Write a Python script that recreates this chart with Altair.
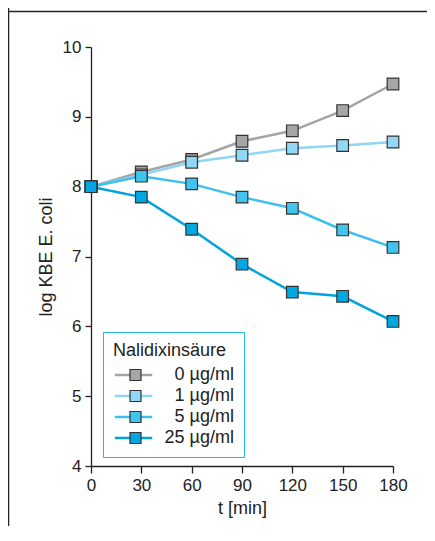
import altair as alt
import pandas as pd

t_min = [0, 30, 60, 90, 120, 150, 180]
series = ["0 µg/ml", "1 µg/ml", "5 µg/ml", "25 µg/ml"]
v_0 = [8.0, 8.21, 8.39, 8.65, 8.80, 9.09, 9.47]
v_1 = [8.0, 8.17, 8.35, 8.45, 8.55, 8.59, 8.64]
v_5 = [8.0, 8.15, 8.04, 7.85, 7.69, 7.38, 7.13]
v_25 = [8.0, 7.85, 7.39, 6.89, 6.49, 6.43, 6.07]
line_colors = ["#a4a4a7", "#8fd6f4", "#3ec0ee", "#00a3df"]
fill_colors = ["#a6a6a9", "#90d8f6", "#40c4f0", "#00a8e1"]

rows = []
for name, vals in zip(series, [v_0, v_1, v_5, v_25]):
    for t, v in zip(t_min, vals):
        rows.append({"t": t, "v": v, "Serie": name, "Serie2": name})
df = pd.DataFrame(rows)

FONT = "Liberation Sans"
TXT = "#222222"
NBSP = "\u00a0"

x = alt.X("t:Q", scale=alt.Scale(domain=[0, 180], nice=False),
          axis=alt.Axis(values=t_min, title="t [min]", grid=False, labelFlush=False,
                        labelFontSize=17, titleFontSize=18, titlePadding=6,
                        labelPadding=4, tickSize=7))
y = alt.Y("v:Q", scale=alt.Scale(domain=[4, 10], nice=False, zero=False),
          axis=alt.Axis(values=[4, 5, 6, 7, 8, 9, 10], title="log KBE E. coli",
                        grid=False, labelFlush=False, labelFontSize=17, titleFontSize=18,
                        titlePadding=7, labelPadding=4, tickSize=6))

common_legend = dict(
    orient="none", legendY=285, symbolSize=121, labelFontSize=18, titleFontSize=18,
    labelFont=FONT, titleFont=FONT, titleFontWeight="normal", padding=10,
    rowPadding=3, titlePadding=6,
)

lines = alt.Chart(df).mark_line(strokeWidth=2.5).encode(
    x=x, y=y,
    stroke=alt.Stroke("Serie:N", scale=alt.Scale(domain=series, range=line_colors),
                      sort=series,
                      legend=alt.Legend(
                          title="Nalidixinsäure", legendX=12,
                          symbolType="M-1.3,0H5.5", symbolStrokeWidth=2.5,
                          labelColor=TXT, titleColor=TXT, labelAlign="right",
                          labelOffset=103, strokeColor="#29b6e8", **common_legend)),
)

points = alt.Chart(df).mark_square(size=135, stroke="#333333", strokeWidth=1.2, opacity=1).encode(
    x=x, y=y,
    fill=alt.Fill("Serie2:N", scale=alt.Scale(range=fill_colors), sort=series,
                  legend=alt.Legend(
                      title=NBSP, legendX=25.5,
                      symbolType="square", symbolStrokeColor="#333333",
                      symbolStrokeWidth=1.2, symbolOpacity=1,
                      labelExpr="'" + NBSP + "'", labelOffset=4,
                      **common_legend)),
)

frame_src = pd.DataFrame({"k": [0]})
top_line = alt.Chart(frame_src).mark_rule(color=TXT, strokeWidth=1.5).encode(
    x=alt.value(-90), x2=alt.value(500), y=alt.value(-35.5))
left_line = alt.Chart(frame_src).mark_rule(color=TXT, strokeWidth=1.5).encode(
    x=alt.value(-82.5), y=alt.value(-40), y2=alt.value(600))

chart = alt.layer(top_line, left_line, lines, points).properties(
    width=302, height=419, background="white",
    autosize=alt.AutoSizeParams(type="none"),
    padding={"left": 83, "top": 39, "right": 34, "bottom": 60},
).configure_view(stroke=None).configure_axis(
    labelFont=FONT, titleFont=FONT, labelColor=TXT, titleColor=TXT,
    domainColor=TXT, tickColor=TXT, titleFontWeight="normal",
    domainWidth=1.3, tickWidth=1.3,
)

chart.save("out.html", embed_options={"renderer": "svg", "actions": False})
